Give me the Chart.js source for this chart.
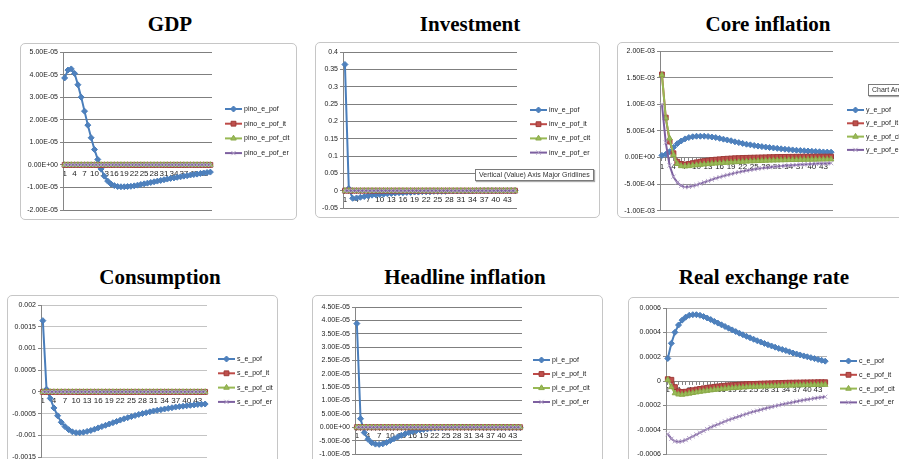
<!DOCTYPE html>
<html>
<head>
<meta charset="utf-8">
<script src="https://cdn.jsdelivr.net/npm/chart.js"></script>
<style>
html,body{margin:0;padding:0;background:#fff}
body{width:899px;height:459px;overflow:hidden;position:relative}
.ttl{position:absolute;width:300px;text-align:center;font:bold 21px "Liberation Serif","Times New Roman",serif;line-height:21px;color:#000}
.box{position:absolute;border:1px solid #c6c6c6;border-radius:5px;background:#fff;box-sizing:border-box}
.box canvas{position:absolute;left:0;top:0}
.tip{position:absolute;background:#fff;border:1px solid #7a7a7a;font:7px "Liberation Sans",Arial,sans-serif;color:#333;padding:1px 3px;white-space:nowrap;box-shadow:1px 1px 1px #aaa;line-height:8px}
</style>
</head>
<body>
<div class="tip" style="left:475px;top:169px">Vertical (Value) Axis Major Gridlines</div>
<div class="tip" style="left:868px;top:84px">Chart Area</div>
<script>
// periods 1..45
var cats = [1,2,3,4,5,6,7,8,9,10,11,12,13,14,15,16,17,18,19,20,21,22,23,24,25,26,27,28,29,30,31,32,33,34,35,36,37,38,39,40,41,42,43,44,45];

// series that stay at zero the whole time
var flat = [0,0,0,0,0,0,0,0,0,0,0,0,0,0,0,0,0,0,0,0,0,0,0,0,0,0,0,0,0,0,0,0,0,0,0,0,0,0,0,0,0,0,0,0,0];

// GDP
var gdpPof = [3.85e-5,4.2e-5,4.25e-5,4.05e-5,3.55e-5,3.0e-5,2.38e-5,1.76e-5,1.2e-5,0.68e-5,0.24e-5,-0.18e-5,-0.5e-5,-0.72e-5,-0.85e-5,-0.92e-5,-0.96e-5,-0.97e-5,-0.97e-5,-0.96e-5,-0.95e-5,-0.93e-5,-0.9e-5,-0.87e-5,-0.84e-5,-0.81e-5,-0.78e-5,-0.75e-5,-0.72e-5,-0.69e-5,-0.66e-5,-0.63e-5,-0.6e-5,-0.58e-5,-0.55e-5,-0.53e-5,-0.5e-5,-0.48e-5,-0.45e-5,-0.43e-5,-0.41e-5,-0.38e-5,-0.36e-5,-0.34e-5,-0.32e-5];
var gdpTicks = [-2e-5,-1e-5,0,1e-5,2e-5,3e-5,4e-5,5e-5];

// Investment
var invPof = [0.364,0.006,-0.022,-0.021,-0.019,-0.017,-0.015,-0.013,-0.012,-0.011,-0.010,-0.009,-0.008,-0.007,-0.006,-0.006,-0.005,-0.005,-0.004,-0.004,-0.003,-0.003,-0.003,-0.002,-0.002,-0.002,-0.002,-0.001,-0.001,-0.001,-0.001,-0.001,-0.001,-0.001,0,0,0,0,0,0,0,0,0,0,0];
var invTicks = [-0.05,0,0.05,0.1,0.15,0.2,0.25,0.3,0.35,0.4];

// Core inflation
var corePof = [0.4e-4,0.6e-4,1.1e-4,1.9e-4,2.6e-4,3.1e-4,3.5e-4,3.75e-4,3.9e-4,4.0e-4,4.0e-4,4.0e-4,3.95e-4,3.85e-4,3.75e-4,3.6e-4,3.45e-4,3.3e-4,3.15e-4,2.95e-4,2.8e-4,2.65e-4,2.5e-4,2.38e-4,2.26e-4,2.15e-4,2.05e-4,1.96e-4,1.88e-4,1.8e-4,1.72e-4,1.64e-4,1.56e-4,1.5e-4,1.43e-4,1.37e-4,1.32e-4,1.27e-4,1.22e-4,1.17e-4,1.13e-4,1.09e-4,1.05e-4,1.02e-4,1.0e-4];
var coreIt = [15.6e-4,7.5e-4,3.0e-4,0.8e-4,-0.8e-4,-1.2e-4,-1.3e-4,-1.2e-4,-1.05e-4,-0.9e-4,-0.78e-4,-0.66e-4,-0.56e-4,-0.47e-4,-0.4e-4,-0.33e-4,-0.27e-4,-0.22e-4,-0.18e-4,-0.14e-4,-0.11e-4,-0.08e-4,-0.06e-4,-0.04e-4,-0.02e-4,0,0.02e-4,0.04e-4,0.06e-4,0.08e-4,0.1e-4,0.11e-4,0.12e-4,0.13e-4,0.14e-4,0.15e-4,0.15e-4,0.16e-4,0.16e-4,0.16e-4,0.17e-4,0.17e-4,0.17e-4,0.17e-4,0.17e-4];
var coreCit = [15.5e-4,7.4e-4,3.6e-4,0.5e-4,-1.2e-4,-1.6e-4,-1.65e-4,-1.6e-4,-1.5e-4,-1.42e-4,-1.35e-4,-1.28e-4,-1.22e-4,-1.16e-4,-1.1e-4,-1.05e-4,-1.0e-4,-0.95e-4,-0.9e-4,-0.86e-4,-0.82e-4,-0.78e-4,-0.74e-4,-0.7e-4,-0.67e-4,-0.64e-4,-0.61e-4,-0.58e-4,-0.56e-4,-0.54e-4,-0.52e-4,-0.5e-4,-0.48e-4,-0.46e-4,-0.45e-4,-0.44e-4,-0.42e-4,-0.41e-4,-0.4e-4,-0.39e-4,-0.38e-4,-0.37e-4,-0.36e-4,-0.35e-4,-0.34e-4];
var coreEr = [10.0e-4,2.8e-4,-1.5e-4,-3.6e-4,-4.7e-4,-5.3e-4,-5.55e-4,-5.5e-4,-5.35e-4,-5.15e-4,-4.9e-4,-4.65e-4,-4.4e-4,-4.15e-4,-3.9e-4,-3.68e-4,-3.47e-4,-3.27e-4,-3.08e-4,-2.9e-4,-2.74e-4,-2.59e-4,-2.45e-4,-2.32e-4,-2.2e-4,-2.09e-4,-1.99e-4,-1.9e-4,-1.82e-4,-1.74e-4,-1.67e-4,-1.6e-4,-1.54e-4,-1.48e-4,-1.43e-4,-1.38e-4,-1.33e-4,-1.29e-4,-1.25e-4,-1.21e-4,-1.17e-4,-1.14e-4,-1.11e-4,-1.08e-4,-1.05e-4];
var coreTicks = [-1e-3,-5e-4,0,5e-4,1e-3,1.5e-3,2e-3];

// Consumption
var consPof = [16.4e-4,0.6e-4,-1.5e-4,-3.7e-4,-5.5e-4,-7.0e-4,-8.0e-4,-8.7e-4,-9.2e-4,-9.4e-4,-9.4e-4,-9.3e-4,-9.1e-4,-8.9e-4,-8.6e-4,-8.3e-4,-8.0e-4,-7.7e-4,-7.4e-4,-7.1e-4,-6.8e-4,-6.5e-4,-6.2e-4,-5.95e-4,-5.7e-4,-5.45e-4,-5.2e-4,-5.0e-4,-4.8e-4,-4.6e-4,-4.4e-4,-4.25e-4,-4.1e-4,-3.95e-4,-3.8e-4,-3.65e-4,-3.5e-4,-3.4e-4,-3.3e-4,-3.2e-4,-3.1e-4,-3.0e-4,-2.9e-4,-2.85e-4,-2.8e-4];
var consTicks = [-0.0015,-0.001,-0.0005,0,0.0005,0.001,0.0015,0.002];

// Headline inflation
var hlPof = [38.8e-6,3.2e-6,-2.0e-6,-4.5e-6,-5.8e-6,-6.3e-6,-6.4e-6,-6.2e-6,-5.7e-6,-5.0e-6,-4.3e-6,-3.6e-6,-3.0e-6,-2.5e-6,-2.0e-6,-1.6e-6,-1.3e-6,-1.0e-6,-0.8e-6,-0.6e-6,-0.4e-6,-0.3e-6,-0.2e-6,-0.1e-6,0,0.05e-6,0.1e-6,0.1e-6,0.1e-6,0.1e-6,0.1e-6,0.1e-6,0.1e-6,0.1e-6,0.05e-6,0.05e-6,0.05e-6,0.05e-6,0,0,0,0,0,0,0];
var hlTicks = [-1e-5,-5e-6,0,5e-6,1e-5,1.5e-5,2e-5,2.5e-5,3e-5,3.5e-5,4e-5,4.5e-5];

// Real exchange rate
var rerPof = [1.85e-4,3.1e-4,4.0e-4,4.6e-4,5.0e-4,5.25e-4,5.4e-4,5.45e-4,5.45e-4,5.4e-4,5.3e-4,5.18e-4,5.05e-4,4.9e-4,4.76e-4,4.62e-4,4.48e-4,4.34e-4,4.2e-4,4.06e-4,3.93e-4,3.8e-4,3.67e-4,3.55e-4,3.43e-4,3.31e-4,3.2e-4,3.09e-4,2.98e-4,2.88e-4,2.78e-4,2.68e-4,2.59e-4,2.5e-4,2.4e-4,2.3e-4,2.22e-4,2.14e-4,2.06e-4,1.99e-4,1.92e-4,1.84e-4,1.77e-4,1.7e-4,1.63e-4];
var rerIt = [0.15e-4,0.1e-4,-0.5e-4,-0.85e-4,-0.9e-4,-0.88e-4,-0.82e-4,-0.76e-4,-0.7e-4,-0.65e-4,-0.6e-4,-0.56e-4,-0.52e-4,-0.48e-4,-0.45e-4,-0.42e-4,-0.39e-4,-0.36e-4,-0.34e-4,-0.32e-4,-0.3e-4,-0.28e-4,-0.26e-4,-0.25e-4,-0.24e-4,-0.23e-4,-0.22e-4,-0.21e-4,-0.2e-4,-0.19e-4,-0.18e-4,-0.17e-4,-0.16e-4,-0.15e-4,-0.14e-4,-0.14e-4,-0.13e-4,-0.13e-4,-0.12e-4,-0.12e-4,-0.11e-4,-0.11e-4,-0.1e-4,-0.1e-4,-0.1e-4];
var rerCit = [0.1e-4,-0.5e-4,-1.0e-4,-1.1e-4,-1.12e-4,-1.08e-4,-1.03e-4,-0.98e-4,-0.93e-4,-0.88e-4,-0.84e-4,-0.8e-4,-0.76e-4,-0.72e-4,-0.69e-4,-0.66e-4,-0.63e-4,-0.6e-4,-0.58e-4,-0.56e-4,-0.54e-4,-0.52e-4,-0.5e-4,-0.48e-4,-0.47e-4,-0.46e-4,-0.45e-4,-0.44e-4,-0.43e-4,-0.42e-4,-0.41e-4,-0.4e-4,-0.39e-4,-0.38e-4,-0.37e-4,-0.36e-4,-0.35e-4,-0.34e-4,-0.34e-4,-0.33e-4,-0.33e-4,-0.32e-4,-0.32e-4,-0.31e-4,-0.31e-4];
var rerEr = [-4.35e-4,-4.75e-4,-4.95e-4,-5.0e-4,-4.95e-4,-4.85e-4,-4.7e-4,-4.55e-4,-4.4e-4,-4.25e-4,-4.1e-4,-3.95e-4,-3.8e-4,-3.68e-4,-3.56e-4,-3.44e-4,-3.32e-4,-3.2e-4,-3.1e-4,-3.0e-4,-2.9e-4,-2.8e-4,-2.7e-4,-2.6e-4,-2.52e-4,-2.44e-4,-2.36e-4,-2.28e-4,-2.2e-4,-2.13e-4,-2.06e-4,-1.99e-4,-1.92e-4,-1.86e-4,-1.8e-4,-1.74e-4,-1.68e-4,-1.62e-4,-1.57e-4,-1.52e-4,-1.47e-4,-1.42e-4,-1.38e-4,-1.34e-4,-1.3e-4];
var rerTicks = [-0.0006,-0.0004,-0.0002,0,0.0002,0.0004,0.0006];

var FONT = '"Liberation Sans", Arial, sans-serif';

// excel 2007 look for the 4 series
var looks = [
  {line:'#4A7EBB', fill:'#4F81BD', edge:'#4A7EBB', shape:'rectRot', r:3},
  {line:'#BE4B48', fill:'#C0504D', edge:'#9E3B38', shape:'rect', r:3.4},
  {line:'#98B954', fill:'#9BBB59', edge:'#8AAA48', shape:'triangle', r:3.2},
  {line:'#7D60A0', fill:'#B3A2C7', edge:'#B3A2C7', shape:'crossRot', r:3}
];

// sci format like 5.00E-05
function sci(v){
  if (v === 0) return '0.00E+00';
  var p = v.toExponential(2).split('e');
  var n = parseInt(p[1], 10);
  return p[0] + 'E' + (n < 0 ? '-' : '+') + String(Math.abs(n)).padStart(2, '0');
}
function plain(v){
  if (v === 0) return '0';
  return String(Number(v.toPrecision(6)));
}

function drawMark(ctx, lk, x, y){
  var r = lk.r, s = r * Math.SQRT1_2;
  ctx.save();
  ctx.fillStyle = lk.fill; ctx.strokeStyle = lk.edge; ctx.lineWidth = 1;
  ctx.beginPath();
  if (lk.shape === 'rectRot'){
    ctx.moveTo(x, y - r); ctx.lineTo(x + r, y); ctx.lineTo(x, y + r); ctx.lineTo(x - r, y); ctx.closePath();
    ctx.fill(); ctx.stroke();
  } else if (lk.shape === 'rect'){
    ctx.rect(x - s, y - s, 2 * s, 2 * s); ctx.fill(); ctx.stroke();
  } else if (lk.shape === 'triangle'){
    ctx.moveTo(x, y - r); ctx.lineTo(x + r * 0.866, y + r * 0.5); ctx.lineTo(x - r * 0.866, y + r * 0.5); ctx.closePath();
    ctx.fill(); ctx.stroke();
  } else {
    ctx.moveTo(x - s, y - s); ctx.lineTo(x + s, y + s); ctx.moveTo(x + s, y - s); ctx.lineTo(x - s, y + s);
    ctx.stroke();
  }
  ctx.restore();
}

// legend on the right, drawn by hand (line + marker + name)
var xlLegend = {
  id: 'xlLegend',
  afterDraw: function(chart, args, o){
    var ctx = chart.ctx;
    chart.data.datasets.forEach(function(ds, i){
      var lk = looks[i];
      var y = o.y + i * o.dy;
      ctx.save();
      ctx.strokeStyle = lk.line; ctx.lineWidth = 2;
      ctx.beginPath(); ctx.moveTo(o.x, y); ctx.lineTo(o.x + 17, y); ctx.stroke();
      ctx.restore();
      drawMark(ctx, lk, o.x + 8.5, y);
      ctx.save();
      ctx.fillStyle = '#222'; ctx.font = '7px ' + FONT; ctx.textBaseline = 'middle';
      ctx.fillText(ds.label, o.x + 19, y);
      ctx.restore();
    });
  }
};

function makeChart(title, frame, series, names, ticks, fmt){
  var bx = frame.box, pl = frame.plot;
  var t = document.createElement('div');
  t.className = 'ttl'; t.textContent = title;
  t.style.left = (title_cx(frame) - 150) + 'px'; t.style.top = frame.ttop + 'px';
  document.body.appendChild(t);

  var d = document.createElement('div');
  d.className = 'box';
  d.style.left = bx[0] + 'px'; d.style.top = bx[1] + 'px';
  d.style.width = (bx[2] - bx[0]) + 'px'; d.style.height = (bx[3] - bx[1]) + 'px';
  var cv = document.createElement('canvas');
  var W = bx[2] - bx[0] - 2, H = bx[3] - bx[1] - 2;
  cv.width = W; cv.height = H;
  d.appendChild(cv);
  document.body.insertBefore(d, document.body.firstChild);

  var ox = bx[0] + 1, oy = bx[1] + 1;
  var yw = pl[0] - ox;

  new Chart(cv, {
    type: 'line',
    data: {
      labels: cats,
      datasets: series.map(function(s, i){
        var lk = looks[i];
        return {
          label: names[i], data: s, order: 3 - i,
          borderColor: lk.line, borderWidth: 2, tension: 0,
          pointStyle: lk.shape, pointRadius: lk.r, pointHoverRadius: lk.r,
          pointBackgroundColor: lk.fill, pointBorderColor: lk.edge, pointBorderWidth: 1
        };
      })
    },
    options: {
      responsive: false, animation: false, events: [],
      layout: {padding: {left: 0, top: pl[1] - oy, right: W - (pl[2] - ox), bottom: H - (pl[3] - oy)}},
      plugins: {
        legend: {display: false}, tooltip: {enabled: false},
        xlLegend: {x: frame.leg[0] - ox, y: frame.leg[1] - oy, dy: frame.leg[2]}
      },
      scales: {
        x: {
          type: 'category', position: {y: 0}, offset: true,
          grid: {display: true, drawOnChartArea: false, tickLength: 3, color: '#868686'},
          border: {color: '#868686'},
          ticks: {
            autoSkip: false, maxRotation: 0, padding: 1, color: '#222',
            font: {size: 8, family: FONT},
            callback: function(v, i){ return i % 3 === 0 ? String(cats[i]) : ''; }
          }
        },
        y: {
          min: ticks[0], max: ticks[ticks.length - 1],
          afterBuildTicks: function(s){ s.ticks = ticks.map(function(v){ return {value: v}; }); },
          afterFit: function(s){ s.width = yw; },
          grid: {color: frame.grid, tickLength: 3, tickColor: '#868686'},
          border: {color: '#868686'},
          ticks: {color: '#222', padding: 2, font: {size: 7, family: FONT}, callback: function(v){ return fmt(v); }}
        }
      }
    },
    plugins: [xlLegend]
  });
}

function title_cx(f){ return f.tcx; }

// panel placement (page pixels): outer box, plot area, legend start/first row/step, title
var frames = {
  gdp:  {box:[20,43,297,220],  plot:[63,52,212,210],   leg:[225,109,14.7], grid:'#7f7f7f', tcx:170, ttop:14},
  inv:  {box:[315,42,600,218], plot:[343,52,517,208],  leg:[530,110,14.2], grid:'#7f7f7f', tcx:470, ttop:14},
  core: {box:[617,42,935,218], plot:[660,51,833,212],  leg:[847,110,13.3], grid:'#8c8c8c', tcx:768, ttop:14},
  cons: {box:[7,295,278,485],  plot:[41,305,207,457],  leg:[218,359,14.3], grid:'#c4c4c4', tcx:160, ttop:267},
  hl:   {box:[312,295,603,485], plot:[355,307,522,454], leg:[533,360,14],   grid:'#7f7f7f', tcx:465, ttop:267},
  rer:  {box:[628,297,935,485], plot:[666,308,827,454], leg:[840,361,13.8], grid:'#b4b4b4', tcx:764, ttop:267}
};

makeChart('GDP', frames.gdp, [gdpPof, flat, flat, flat],
  ['pino_e_pof','pino_e_pof_it','pino_e_pof_cit','pino_e_pof_er'], gdpTicks, sci);
makeChart('Investment', frames.inv, [invPof, flat, flat, flat],
  ['inv_e_pof','inv_e_pof_it','inv_e_pof_cit','inv_e_pof_er'], invTicks, plain);
makeChart('Core inflation', frames.core, [corePof, coreIt, coreCit, coreEr],
  ['y_e_pof','y_e_pof_it','y_e_pof_cit','y_e_pof_er'], coreTicks, sci);
makeChart('Consumption', frames.cons, [consPof, flat, flat, flat],
  ['s_e_pof','s_e_pof_it','s_e_pof_cit','s_e_pof_er'], consTicks, plain);
makeChart('Headline inflation', frames.hl, [hlPof, flat, flat, flat],
  ['pi_e_pof','pi_e_pof_it','pi_e_pof_cit','pi_e_pof_er'], hlTicks, sci);
makeChart('Real exchange rate', frames.rer, [rerPof, rerIt, rerCit, rerEr],
  ['c_e_pof','c_e_pof_it','c_e_pof_cit','c_e_pof_er'], rerTicks, plain);
</script>
</body>
</html>
